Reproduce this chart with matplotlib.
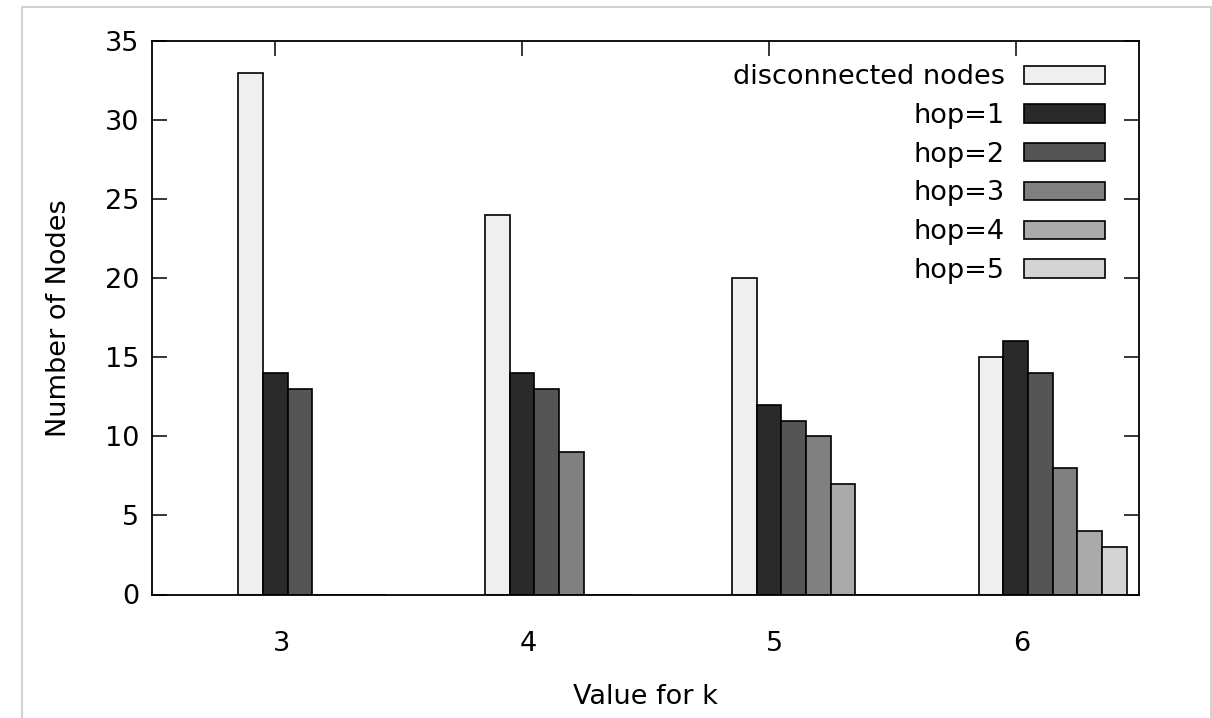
from matplotlib import pyplot as plt
from matplotlib.patches import Rectangle
from matplotlib.transforms import ScaledTranslation
import numpy as np

# values
k_values = ["3", "4", "5", "6"]
series_names = ["disconnected nodes", "hop=1", "hop=2", "hop=3", "hop=4", "hop=5"]
disconnected = [33, 24, 20, 15]
hop1 = [14, 14, 12, 16]
hop2 = [13, 13, 11, 14]
hop3 = [0, 9, 10, 8]
hop4 = [0, 0, 7, 4]
hop5 = [0, 0, 0, 3]

colors = ["#efefef", "#2a2a2a", "#555555", "#808080", "#aaaaaa", "#d4d4d4"]

if __name__ == "__main__":
    plt.rcParams['font.family'] = ['DejaVu Sans']
    fig = plt.figure(figsize=(12.12, 7.18), dpi=100)
    ax = fig.add_axes([152/1212, 1 - 594.5/718, 987/1212, 553.5/718])

    x = np.arange(len(k_values))
    width = 0.1
    allseries = [disconnected, hop1, hop2, hop3, hop4, hop5]
    for j, vals in enumerate(allseries):
        ax.bar(x + (j - 1) * width, vals, width, color=colors[j],
               edgecolor="black", linewidth=1.2, label=series_names[j], zorder=2)

    ax.set_xlim(-0.5, 3.5)
    ax.set_ylim(0, 35)
    ax.set_yticks(range(0, 36, 5))
    ax.set_xticks(x)
    ax.set_xticklabels(k_values)

    fs = 19.5
    ax.tick_params(axis="both", direction="in", length=11, width=1.1,
                   labelsize=fs, top=True, right=True)
    ax.tick_params(axis="y", pad=9)
    ax.tick_params(axis="x", pad=26)
    # gnuplot puts the x labels a bit right of the ticks
    for lab in ax.get_xticklabels():
        lab.set_transform(lab.get_transform() + ScaledTranslation(0.06, 0, fig.dpi_scale_trans))
    for sp in ax.spines.values():
        sp.set_linewidth(1.3)
        sp.set_zorder(3)

    ax.set_xlabel("Value for k", fontsize=fs, labelpad=20)
    ax.set_ylabel("Number of Nodes", fontsize=fs, labelpad=24)

    ax.legend(loc="upper right", bbox_to_anchor=(0.9656, 0.958), frameon=False,
              markerfirst=False, fontsize=fs, handlelength=3.0, handleheight=0.66,
              handletextpad=0.7, labelspacing=0.47, borderpad=0, borderaxespad=0)

    # light frame of the screenshot
    fig.patches.append(Rectangle((22/1212, -0.05), (1211-22)/1212, 1.05 - 7/718,
                                 transform=fig.transFigure, fill=False,
                                 edgecolor="#d2d2d2", linewidth=1.5))

    plt.savefig("out.png", dpi=100)
